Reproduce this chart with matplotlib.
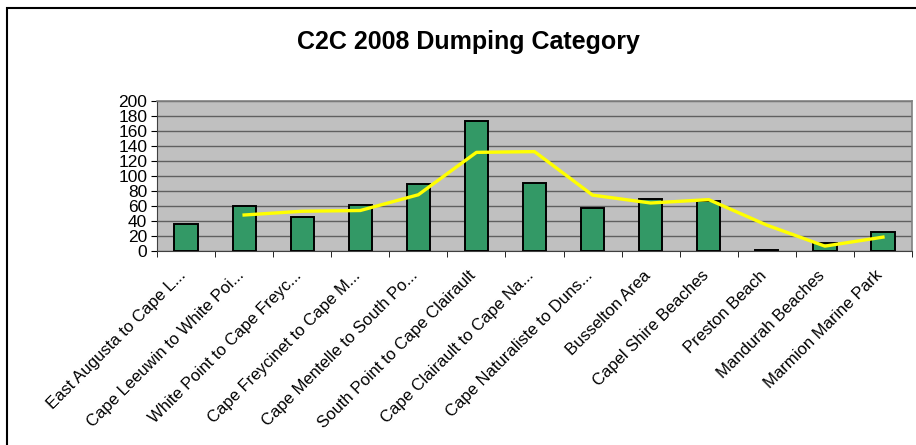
import numpy as np
import matplotlib.pyplot as plt
from matplotlib.patches import Rectangle
from matplotlib.transforms import ScaledTranslation

plt.rcParams['font.family'] = ['Liberation Sans', 'DejaVu Sans']

categories = [
    "East Augusta to Cape L...",
    "Cape Leeuwin to White Poi...",
    "White Point to Cape Freyc...",
    "Cape Freycinet to Cape M...",
    "Cape Mentelle to South Po...",
    "South Point to Cape Clairault",
    "Cape Clairault to Cape Na...",
    "Cape Naturaliste to Duns...",
    "Busselton Area",
    "Capel Shire Beaches",
    "Preston Beach",
    "Mandurah Beaches",
    "Marmion Marine Park",
]
counts = [36, 60, 46, 62, 89, 174, 91, 58, 70, 67, 2, 11, 26]
# 2-period moving average trend line, starts at the 2nd category
trend = [48, 53, 54, 75, 131.5, 132.5, 74.5, 64, 68.5, 34.5, 6.5, 18.5]
yticks = list(range(0, 201, 20))

W, H = 916, 445
fig = plt.figure(figsize=(W / 100, H / 100), dpi=100)
fig.patch.set_facecolor("white")

# chart border (cut off at right and bottom like the screenshot)
fig.patches.append(Rectangle((7 / W, -0.05), 1.2, 1 - 8 / H + 0.05,
                             transform=fig.transFigure, fill=False,
                             edgecolor="black", linewidth=1.5))

ax = fig.add_axes([157 / W, (H - 251) / H, 755 / W, 150 / H])
ax.set_facecolor("#C0C0C0")

x = np.arange(len(categories))
ax.bar(x, counts, width=0.4, color="#339966", edgecolor="black",
       linewidth=1.4, zorder=3)
ax.plot(x[1:], trend, color="#FFFF00", linewidth=2.4, zorder=4)

ax.set_xlim(-0.5, len(categories) - 0.5)
ax.set_ylim(0, 200)
ax.set_yticks(yticks)
ax.yaxis.grid(True, color="#606060", linewidth=1.0, zorder=1)
ax.set_axisbelow(True)
ax.tick_params(axis="y", labelsize=12.5, length=4, pad=3, direction="out")

ax.set_xticks(x)
ax.set_xticklabels(categories, rotation=45, ha="right",
                   rotation_mode="anchor", fontsize=12)
ax.set_xticks(np.arange(-0.5, len(categories)), minor=True)
ax.tick_params(axis="x", which="major", length=0, pad=12)
ax.tick_params(axis="x", which="minor", length=4, direction="out")
shift = ScaledTranslation(-8 / 100, 0, fig.dpi_scale_trans)
for lab in ax.get_xticklabels():
    lab.set_transform(lab.get_transform() + shift)

for side in ["top", "right"]:
    ax.spines[side].set_color("#808080")
    ax.spines[side].set_linewidth(1.2)
ax.spines["left"].set_color("#404040")
ax.spines["bottom"].set_color("#404040")

fig.text(468 / W, 1 - 42 / H, "C2C 2008 Dumping Category", ha="center",
         va="center", fontsize=18, fontweight="bold")

fig.savefig("out.png", dpi=100)
